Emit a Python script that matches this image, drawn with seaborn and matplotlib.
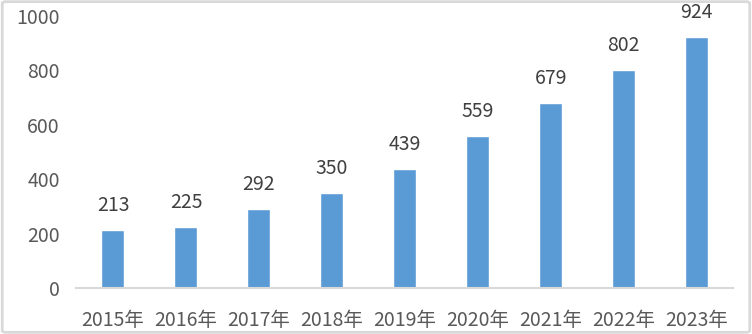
import matplotlib
matplotlib.use("Agg")
import matplotlib.pyplot as plt
import seaborn as sns
import pandas as pd
from matplotlib.patches import FancyBboxPatch

years = ["2015年", "2016年", "2017年", "2018年", "2019年", "2020年", "2021年", "2022年", "2023年"]
values = [213, 225, 292, 350, 439, 559, 679, 802, 924]
yticks = [0, 200, 400, 600, 800, 1000]

sns.set_theme(style="white")
plt.rcParams['font.family'] = ['Noto Sans CJK SC', 'DejaVu Sans']

df = pd.DataFrame({"year": years, "value": values})

fig = plt.figure(figsize=(7.52, 3.34), dpi=100)
ax = fig.add_axes([0.1017, 0.1377, 0.8735, 0.8143])
sns.barplot(data=df, x="year", y="value", color="#5B9BD5", saturation=1, width=0.315, ax=ax)

ax.set_ylim(0, 1000)
ax.set_xlim(-0.5, len(years) - 0.5)
ax.set_yticks(yticks)
ax.set_yticklabels([str(t) for t in yticks])
ax.set_xlabel("")
ax.set_ylabel("")
for s in ["top", "right", "left"]:
    ax.spines[s].set_visible(False)
ax.spines["bottom"].set_color("#D9D9D9")
ax.spines["bottom"].set_linewidth(1.5)
ax.tick_params(axis="both", length=0, labelsize=14, colors="#595959")
ax.tick_params(axis="x", pad=16)
ax.tick_params(axis="y", pad=12)

for c in ax.containers:
    ax.bar_label(c, labels=[str(v) for v in values], padding=10, fontsize=14, color="#404040")

border = FancyBboxPatch((0.003, 0.005), 0.994, 0.99, boxstyle="round,pad=0,rounding_size=0.005",
                        transform=fig.transFigure, fill=False, edgecolor="#D9D9D9", linewidth=2)
fig.patches.append(border)

fig.savefig("out.png", dpi=100)
